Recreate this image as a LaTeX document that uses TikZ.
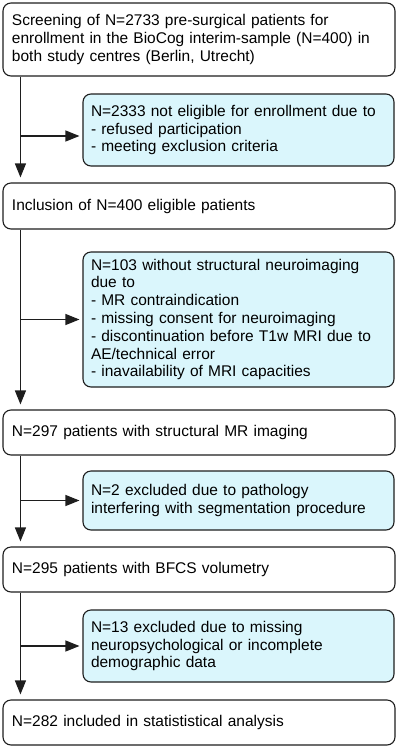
\documentclass[tikz,border=0pt]{standalone}
\usepackage{fontspec}
\setmainfont{Liberation Sans}
\usetikzlibrary{arrows.meta,calc}

\definecolor{exclblue}{RGB}{218,246,252}
\definecolor{edge}{RGB}{30,30,30}

\begin{document}
\begin{tikzpicture}[x=1pt, y=-1pt, line width=1.1pt, edge,
  stage/.style={draw, rounded corners=8pt, fill=white, text=black, align=left,
    text width=374pt, inner xsep=9pt, font=\fontsize{15.5}{17.8}\selectfont},
  excl/.style={stage, fill=exclblue, text width=295pt, inner xsep=8pt},
  flow/.style={-{Triangle[length=14pt,width=11pt]}, shorten >=5pt}]
\useasboundingbox (0, 0) rectangle (400, 748);
%Main stages
\node[stage, minimum height=73pt] (s1) at (199, 39.5) {Screening of N=2733 pre-surgical patients for\\enrollment in the BioCog interim-sample (N=400) in\\both study centres (Berlin, Utrecht)};
\node[stage, minimum height=46pt] (s2) at (199, 206) {Inclusion of N=400 eligible patients};
\node[stage, minimum height=45pt] (s3) at (199, 432.5) {N=297 patients with structural MR imaging};
\node[stage, minimum height=45pt] (s4) at (199, 569.5) {N=295 patients with BFCS volumetry};
\node[stage, minimum height=45pt] (s5) at (199, 722.5) {N=282 included in statististical analysis};
%Exclusions
\node[excl, minimum height=72pt] (e1) at (238.5, 130) {N=2333 not eligible for enrollment due to\\- refused participation\\- meeting exclusion criteria};
\node[excl, minimum height=135pt] (e2) at (238.5, 319.5) {N=103 without structural neuroimaging\\due to\\- MR contraindication\\- missing consent for neuroimaging\\- discontinuation before T1w MRI due to\\AE/technical error\\- inavailability of MRI capacities};
\node[excl, minimum height=59pt] (e3) at (238.5, 500.5) {N=2 excluded due to pathology\\interfering with segmentation procedure};
\node[excl, minimum height=72pt] (e4) at (238.5, 646) {N=13 excluded due to missing\\neuropsychological or incomplete\\demographic data};
%Spine
\coordinate (spine) at ([xshift=18pt]s1.west);
\draw[flow] ([xshift=18pt]s1.south west) -- ([xshift=18pt]s2.north west);
\draw[flow] ([xshift=18pt]s2.south west) -- ([xshift=18pt]s3.north west);
\draw[flow] ([xshift=18pt]s3.south west) -- ([xshift=18pt]s4.north west);
\draw[flow] ([xshift=18pt]s4.south west) -- ([xshift=18pt]s5.north west);
%Branches
\draw[flow, shorten >=3pt] ($(e1.west -| spine)+(0,6)$) -- ($(e1.west)+(0,6)$);
\draw[flow, shorten >=3pt] (e2.west -| spine) -- (e2.west);
\draw[flow, shorten >=3pt] (e3.west -| spine) -- (e3.west);
\draw[flow, shorten >=3pt] (e4.west -| spine) -- (e4.west);
\end{tikzpicture}
\end{document}
